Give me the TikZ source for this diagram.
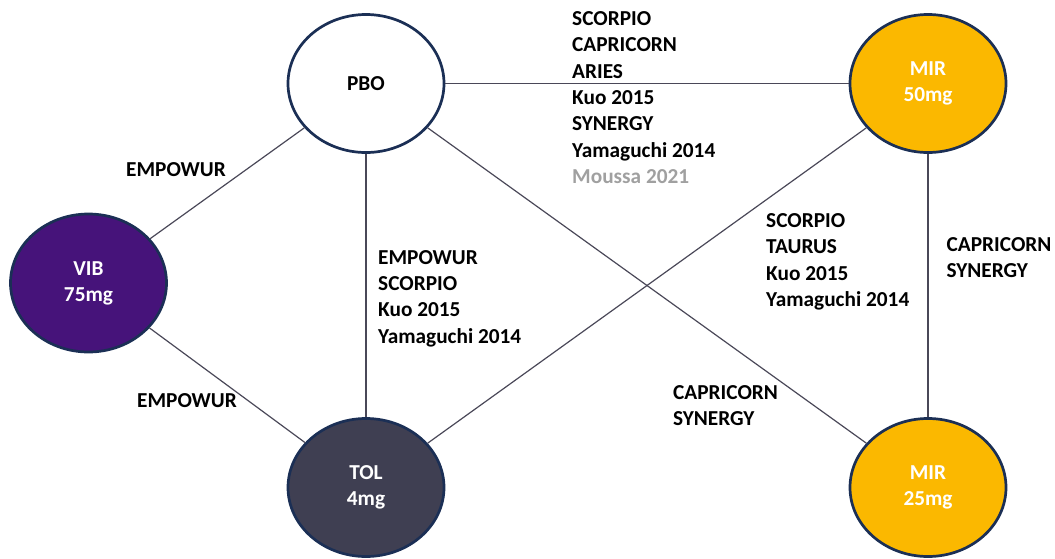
\documentclass[tikz,border=0pt]{standalone}
\usepackage{fontspec}
\setmainfont{Carlito}
\usetikzlibrary{shapes.geometric}
\definecolor{navy}{HTML}{1B2F55}
\definecolor{mirorange}{HTML}{FBB800}
\definecolor{vibpurple}{HTML}{46137A}
\definecolor{tolgray}{HTML}{3F3F52}
\definecolor{edgecol}{HTML}{4A4858}
\definecolor{lightgray}{HTML}{A0A0A0}
\tikzset{
  drug/.style={ellipse, draw=navy, line width=2.7pt, minimum width=156pt, minimum height=138pt, inner sep=0pt, align=center, font=\fontsize{21.3}{26}\selectfont\bfseries},
  conn/.style={draw=edgecol, line width=1.2pt},
  lbl/.style={anchor=north west, inner sep=0pt, align=left, font=\fontsize{21.3}{26.3}\selectfont\bfseries}
}
\begin{document}
\begin{tikzpicture}[x=1pt,y=-1pt]
\useasboundingbox (0,0) rectangle (1055,558);
\node[drug, fill=white] (pbo) at (366,83.5) {PBO};
\node[drug, fill=mirorange, text=white] (mir50) at (928,83.5) {MIR\\50mg};
\node[drug, fill=vibpurple, text=white] (vib) at (88.5,283) {VIB\\75mg};
\node[drug, fill=tolgray, text=white] (tol) at (366,487.5) {TOL\\4mg};
\node[drug, fill=mirorange, text=white] (mir25) at (928,487.5) {MIR\\25mg};
\draw[conn] (pbo) -- (mir50);
\draw[conn] (pbo) -- (vib);
\draw[conn] (pbo) -- (tol);
\draw[conn] (pbo) -- (mir25);
\draw[conn] (mir50) -- (tol);
\draw[conn] (mir50) -- (mir25);
\draw[conn] (vib) -- (tol);
\node[lbl] (l1) at (572,11.5) {SCORPIO\\CAPRICORN\\ARIES\\Kuo 2015\\SYNERGY\\Yamaguchi 2014\\\textcolor{lightgray}{Moussa 2021}};
\node[lbl] (l2) at (378,250) {EMPOWUR\\SCORPIO\\Kuo 2015\\Yamaguchi 2014};
\node[lbl] (l3) at (766,213.5) {SCORPIO\\TAURUS\\Kuo 2015\\Yamaguchi 2014};
\node[lbl] (l4) at (946.5,237.5) {CAPRICORN\\SYNERGY};
\node[lbl] (l5) at (673,385) {CAPRICORN\\SYNERGY};
\node[lbl] (l6) at (126,162.5) {EMPOWUR};
\node[lbl] (l7) at (137,393.5) {EMPOWUR};
\end{tikzpicture}
\end{document}
